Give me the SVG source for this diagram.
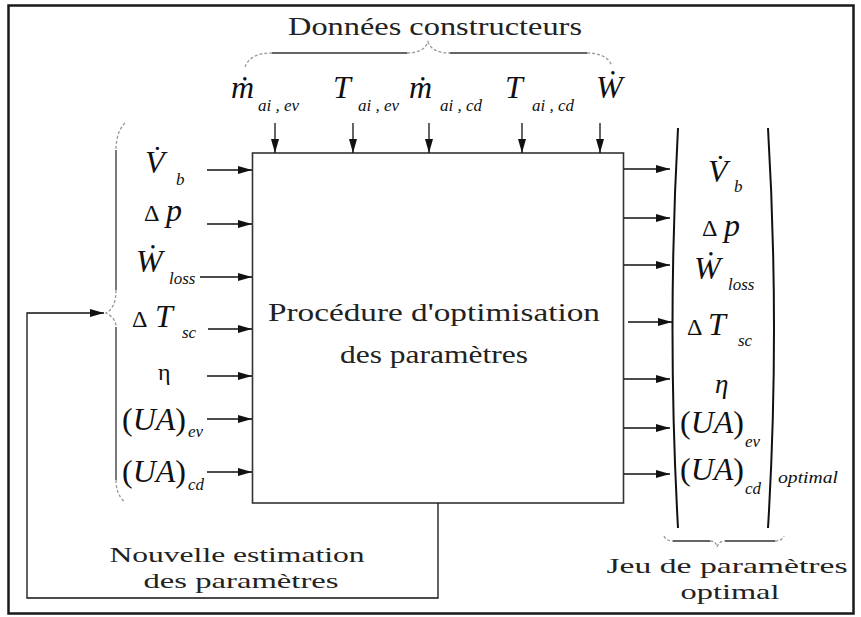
<svg xmlns="http://www.w3.org/2000/svg" width="861" height="617" viewBox="0 0 861 617">
<defs>
<style>
.t{font-family:"Liberation Serif","Times New Roman",serif;font-size:26px;fill:#222}
.b{font-size:22px}
.m{font-family:"Liberation Serif","Times New Roman",serif;font-style:italic;font-size:32px;fill:#111}
.s{font-size:17px;font-style:italic}
.g{font-size:24px;font-style:normal}
.u{font-style:normal}
.o{font-family:"Liberation Serif","Times New Roman",serif;font-style:italic;font-size:16px;fill:#111}
.ar{fill:none;stroke:#111;stroke-width:1.3;marker-end:url(#ah)}
.bs{fill:none;stroke:#333;stroke-width:1.3}
.bd{fill:none;stroke:#999;stroke-width:1.3;stroke-dasharray:3 2}
.pa{fill:none;stroke:#111;stroke-width:2}
</style>
<marker id="ah" viewBox="0 0 14 8" refX="14" refY="4" markerWidth="14" markerHeight="8" markerUnits="userSpaceOnUse" orient="auto">
<path d="M0,0 L14,4 L0,8 z" fill="#111"/>
</marker>
</defs>
<rect x="0" y="0" width="861" height="617" fill="#fff"/>
<rect id="frame" x="8.5" y="5.5" width="845" height="608" fill="none" stroke="#1a1a1a" stroke-width="2.5"/>

<g id="process">
<rect x="252.5" y="153" width="371" height="350" fill="none" stroke="#333" stroke-width="1.6"/>
<text class="t" x="434" y="321" text-anchor="middle" textLength="332" lengthAdjust="spacingAndGlyphs">Procédure d'optimisation</text>
<text class="t" x="434" y="363" text-anchor="middle" textLength="188" lengthAdjust="spacingAndGlyphs">des paramètres</text>
</g>

<g id="constructor-data">
<text class="t" x="435" y="35" text-anchor="middle" textLength="294" lengthAdjust="spacingAndGlyphs">Données constructeurs</text>
<path class="bd" d="M245,67 Q250,53 272,53"/>
<path class="bs" d="M272,53 L407,53"/>
<path class="bd" d="M407,53 Q424,53 428,42 Q432,53 450,53"/>
<path class="bs" d="M450,53 L587,53"/>
<path class="bd" d="M587,53 Q607,53 612,66"/>
<text class="m" x="231" y="98">ṁ<tspan class="s" x="258" y="111">ai , ev</tspan></text>
<text class="m" x="333" y="98">T<tspan class="s" x="358" y="111">ai , ev</tspan></text>
<text class="m" x="409" y="98">ṁ<tspan class="s" x="440" y="111">ai , cd</tspan></text>
<text class="m" x="505" y="98">T<tspan class="s" x="532" y="111">ai , cd</tspan></text>
<text class="m" x="596" y="98">Ẇ</text>
</g>

<g id="inputs">
<path class="bd" d="M125,123 Q116,132 116,150"/>
<path class="bs" d="M116,150 L116,290"/>
<path class="bd" d="M116,290 Q116,308 106,313 Q116,318 116,327"/>
<path class="bs" d="M116,327 L116,480"/>
<path class="bd" d="M116,480 Q116,495 125,502"/>
<text class="m" x="145" y="173">V̇<tspan class="s" x="176" y="185">b</tspan></text>
<text class="m" x="144" y="221"><tspan class="g">Δ</tspan><tspan x="166">p</tspan></text>
<text class="m" x="136" y="272">Ẇ<tspan class="s" x="169" y="284">loss</tspan></text>
<text class="m" x="132" y="327"><tspan class="g">Δ</tspan><tspan x="155">T</tspan><tspan class="s" x="182" y="338">sc</tspan></text>
<text class="m" x="158" y="380"><tspan class="g">η</tspan></text>
<text class="m" x="122" y="430"><tspan class="u">(</tspan>UA<tspan class="u">)</tspan><tspan class="s" x="188" y="437">ev</tspan></text>
<text class="m" x="122" y="482"><tspan class="u">(</tspan>UA<tspan class="u">)</tspan><tspan class="s" x="188" y="490">cd</tspan></text>
</g>

<g id="outputs">
<path class="pa" d="M678,128 Q667,330 678,528"/>
<path class="pa" d="M768,128 Q780,330 768,528"/>
<text class="m" x="708" y="182">V̇<tspan class="s" x="734" y="192">b</tspan></text>
<text class="m" x="702" y="236"><tspan class="g">Δ</tspan><tspan x="724">p</tspan></text>
<text class="m" x="694" y="279">Ẇ<tspan class="s" x="728" y="290">loss</tspan></text>
<text class="m" x="687" y="335"><tspan class="g">Δ</tspan><tspan x="708">T</tspan><tspan class="s" x="738" y="346">sc</tspan></text>
<text class="m" x="715" y="393" style="font-size:27px">η</text>
<text class="m" x="680" y="433"><tspan class="u">(</tspan>UA<tspan class="u">)</tspan><tspan class="s" x="745" y="447">ev</tspan></text>
<text class="m" x="680" y="480"><tspan class="u">(</tspan>UA<tspan class="u">)</tspan><tspan class="s" x="745" y="494">cd</tspan></text>
<text class="o" x="778" y="483" textLength="60" lengthAdjust="spacingAndGlyphs">optimal</text>
<path class="bd" d="M664,536 Q666,541 673,541"/>
<path class="bs" d="M673,541 L710,541"/>
<path class="bd" d="M710,541 Q716,541 717,547 Q719,541 725,541"/>
<path class="bs" d="M725,541 L775,541"/>
<path class="bd" d="M775,541 Q782,541 784,536"/>
<text class="t b" x="727" y="573" text-anchor="middle" textLength="241" lengthAdjust="spacingAndGlyphs">Jeu de paramètres</text>
<text class="t b" x="730" y="599" text-anchor="middle" textLength="99" lengthAdjust="spacingAndGlyphs">optimal</text>
</g>

<g id="feedback-label">
<text class="t b" x="237" y="562" text-anchor="middle" textLength="255" lengthAdjust="spacingAndGlyphs">Nouvelle estimation</text>
<text class="t b" x="241" y="588" text-anchor="middle" textLength="195" lengthAdjust="spacingAndGlyphs">des paramètres</text>
</g>

<g id="connectors">
<path class="ar" d="M275,123 V153"/>
<path class="ar" d="M353,123 V153"/>
<path class="ar" d="M429,123 V153"/>
<path class="ar" d="M522,123 V153"/>
<path class="ar" d="M600,123 V153"/>
<path class="ar" d="M207,170 H252"/>
<path class="ar" d="M207,224 H252"/>
<path class="ar" d="M200,277 H252"/>
<path class="ar" d="M208,329 H252"/>
<path class="ar" d="M207,376 H252"/>
<path class="ar" d="M207,419 H252"/>
<path class="ar" d="M207,472 H252"/>
<path class="ar" d="M624,169 H670"/>
<path class="ar" d="M624,218 H670"/>
<path class="ar" d="M624,265 H670"/>
<path class="ar" d="M628,322 H672"/>
<path class="ar" d="M624,379 H670"/>
<path class="ar" d="M624,428 H670"/>
<path class="ar" d="M624,474 H670"/>
<path class="ar" d="M438,503 V598 H27 V313 H104"/>
</g>
</svg>
